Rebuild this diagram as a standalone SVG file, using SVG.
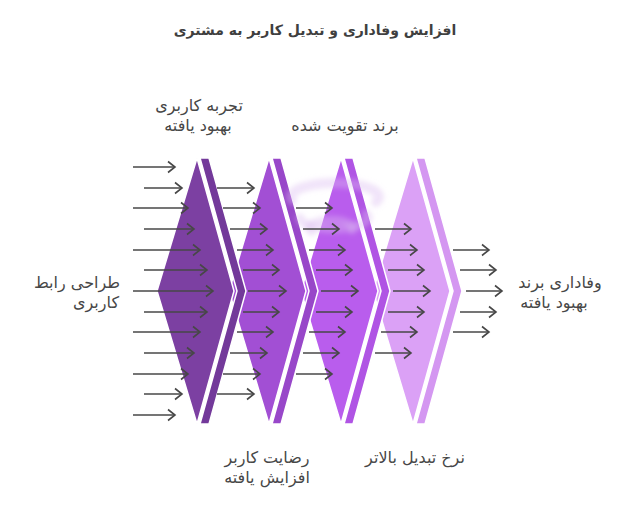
<svg xmlns="http://www.w3.org/2000/svg" width="640" height="510" viewBox="0 0 640 510">
<defs>
<style>
.t{font-family:"DejaVu Sans","Noto Sans",sans-serif;font-size:16px;fill:#474747;text-anchor:middle}
.title{font-family:"DejaVu Sans","Noto Sans",sans-serif;font-size:14px;font-weight:bold;fill:#3f3f3f;text-anchor:middle}
.sh{stroke:#ffffff;stroke-width:1.5;stroke-linejoin:miter}
.ar{stroke:#474747;stroke-width:1.6;fill:none;marker-end:url(#ah)}
</style>
<marker id="ah" markerUnits="userSpaceOnUse" markerWidth="12" markerHeight="14" refX="8" refY="6" orient="auto" viewBox="0 0 12 12">
<path d="M1,0.5 L8,6 L1,11.5" fill="none" stroke="#474747" stroke-width="1.6"/>
</marker>
<filter id="blur" x="-20%" y="-20%" width="140%" height="140%"><feGaussianBlur stdDeviation="2.5"/></filter>
</defs>
<rect width="640" height="510" fill="#ffffff"/>
<text class="title" x="315" y="35">افزایش وفاداری و تبدیل کاربر به مشتری</text>

<g id="stage4" transform="translate(216,0)">
<polygon class="sh" points="197,158 234,291 197,424 157,291" fill="#dba1f6"/>
<polygon class="sh" points="200,158 209,158 246,291 209,424 200,424 237,291" fill="#d497f1"/>
</g>
<g id="stage3" transform="translate(144,0)">
<polygon class="sh" points="197,158 234,291 197,424 157,291" fill="#b95ded"/>
<polygon class="sh" points="200,158 209,158 246,291 209,424 200,424 237,291" fill="#b054e4"/>
</g>
<g id="stage2" transform="translate(72,0)">
<polygon class="sh" points="197,158 234,291 197,424 157,291" fill="#a24fd4"/>
<polygon class="sh" points="200,158 209,158 246,291 209,424 200,424 237,291" fill="#9847c9"/>
</g>
<g id="stage1">
<polygon class="sh" points="197,158 234,291 197,424 157,291" fill="#7c40a2"/>
<polygon class="sh" points="200,158 209,158 246,291 209,424 200,424 237,291" fill="#73399a"/>
</g>

<g id="swirl" fill="none" stroke="#dcbcf0" stroke-opacity="0.4" stroke-linecap="round" filter="url(#blur)">
<path d="M292,200 A44,14 0 1 1 376,202" stroke-width="10"/>
<path d="M300,218 A34,11 0 1 0 366,214" stroke-width="9"/>
<path d="M312,232 A22,8 0 1 1 352,230" stroke-width="8"/>
</g>

<g id="connectors">
<path class="ar" d="M133,167 H175"/>
<path class="ar" d="M144,188 H182"/>
<path class="ar" d="M133,208 H188"/>
<path class="ar" d="M144,229 H194"/>
<path class="ar" d="M133,250 H200"/>
<path class="ar" d="M144,270 H207"/>
<path class="ar" d="M133,291 H213"/>
<path class="ar" d="M144,312 H207"/>
<path class="ar" d="M133,332 H200"/>
<path class="ar" d="M144,353 H194"/>
<path class="ar" d="M133,374 H188"/>
<path class="ar" d="M144,394 H182"/>
<path class="ar" d="M133,415 H175"/>

<path class="ar" d="M217,188 H254"/>
<path class="ar" d="M223,208 H260"/>
<path class="ar" d="M230,229 H267"/>
<path class="ar" d="M237,250 H273"/>
<path class="ar" d="M243,270 H279"/>
<path class="ar" d="M248,291 H286"/>
<path class="ar" d="M243,312 H279"/>
<path class="ar" d="M237,332 H273"/>
<path class="ar" d="M230,353 H267"/>
<path class="ar" d="M223,374 H260"/>
<path class="ar" d="M217,394 H254"/>

<path class="ar" d="M296,208 H332"/>
<path class="ar" d="M303,229 H339"/>
<path class="ar" d="M309,250 H345"/>
<path class="ar" d="M316,270 H352"/>
<path class="ar" d="M321,291 H358"/>
<path class="ar" d="M316,312 H352"/>
<path class="ar" d="M309,332 H345"/>
<path class="ar" d="M303,353 H339"/>
<path class="ar" d="M296,374 H332"/>

<path class="ar" d="M375,229 H411"/>
<path class="ar" d="M381,250 H417"/>
<path class="ar" d="M388,270 H424"/>
<path class="ar" d="M393,291 H430"/>
<path class="ar" d="M388,312 H424"/>
<path class="ar" d="M381,332 H417"/>
<path class="ar" d="M375,353 H411"/>

<path class="ar" d="M453,250 H489"/>
<path class="ar" d="M460,270 H496"/>
<path class="ar" d="M466,291 H502"/>
<path class="ar" d="M460,312 H496"/>
<path class="ar" d="M453,332 H489"/>
</g>

<g id="label-ux">
<text class="t" x="199" y="111">تجربه کاربری</text>
<text class="t" x="198" y="131">بهبود یافته</text>
</g>
<g id="label-brand">
<text class="t" x="345" y="131">برند تقویت شده</text>
</g>
<g id="label-ui">
<text class="t" x="77" y="288">طراحی رابط</text>
<text class="t" x="96" y="308">کاربری</text>
</g>
<g id="label-loyalty">
<text class="t" x="560" y="288">وفاداری برند</text>
<text class="t" x="554" y="308">بهبود یافته</text>
</g>
<g id="label-satisfaction">
<text class="t" x="267" y="463">رضایت کاربر</text>
<text class="t" x="267" y="483">افزایش یافته</text>
</g>
<g id="label-conversion">
<text class="t" x="415" y="463">نرخ تبدیل بالاتر</text>
</g>
</svg>
